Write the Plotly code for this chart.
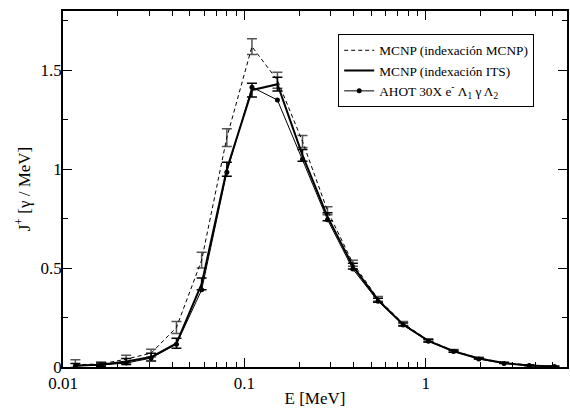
import plotly.graph_objects as go

# Energy bin centres [MeV]
energy = [0.0117, 0.0162, 0.0223, 0.0306, 0.0422, 0.0581, 0.0800, 0.110, 0.152, 0.209,
          0.287, 0.396, 0.545, 0.750, 1.033, 1.422, 1.958, 2.697, 3.713, 5.112]

# MCNP (indexación MCNP)
mcnp_mcnp = [0.012, 0.015, 0.040, 0.070, 0.20, 0.54, 1.16, 1.62, 1.45, 1.14,
             0.79, 0.525, 0.345, 0.22, 0.135, 0.082, 0.045, 0.022, 0.010, 0.004]
mcnp_mcnp_err = [0.025, 0.010, 0.020, 0.020, 0.030, 0.040, 0.045, 0.040, 0.040, 0.030,
                 0.020, 0.015, 0.012, 0.010, 0.008, 0.006, 0.004, 0.003, 0.002, 0.001]

# MCNP (indexación ITS)
mcnp_its = [0.008, 0.012, 0.028, 0.050, 0.12, 0.42, 1.00, 1.40, 1.43, 1.07,
            0.76, 0.51, 0.338, 0.215, 0.132, 0.080, 0.043, 0.020, 0.008, 0.003]
mcnp_its_err = [0.010, 0.008, 0.015, 0.020, 0.025, 0.030, 0.035, 0.035, 0.035, 0.030,
                0.020, 0.015, 0.010, 0.008, 0.006, 0.005, 0.003, 0.002, 0.002, 0.001]

# AHOT 30X
ahot = [0.005, 0.010, 0.020, 0.045, 0.115, 0.39, 0.985, 1.415, 1.35, 1.05,
        0.745, 0.495, 0.333, 0.212, 0.130, 0.079, 0.041, 0.018, 0.007, 0.002]

FONT = "'Liberation Serif', 'Times New Roman', serif"

fig = go.Figure()
fig.add_trace(go.Scatter(
    x=energy, y=mcnp_mcnp, mode="lines", name="MCNP (indexación MCNP)",
    line=dict(color="black", width=1, dash="4px,3px"),
    error_y=dict(type="data", array=mcnp_mcnp_err, color="#555555", thickness=1.5, width=5),
))
fig.add_trace(go.Scatter(
    x=energy, y=mcnp_its, mode="lines", name="MCNP (indexación ITS)",
    line=dict(color="black", width=2),
    error_y=dict(type="data", array=mcnp_its_err, color="black", thickness=1.5, width=5),
))
fig.add_trace(go.Scatter(
    x=energy, y=ahot, mode="lines+markers",
    name="AHOT 30X e<sup>-</sup> Λ<sub>1</sub> γ Λ<sub>2</sub>",
    line=dict(color="black", width=1),
    marker=dict(color="black", size=5, symbol="circle"),
))

fig.update_layout(
    width=570, height=408,
    margin=dict(l=63, r=1, t=11, b=41),
    plot_bgcolor="white", paper_bgcolor="white",
    font=dict(family=FONT, size=17, color="black"),
    showlegend=True,
    legend=dict(
        x=0.546, y=0.935, xanchor="left", yanchor="top",
        bgcolor="white", bordercolor="black", borderwidth=1,
        font=dict(family=FONT, size=13.3, color="black"),
        itemwidth=30, tracegroupgap=0,
    ),
)
fig.update_xaxes(
    type="log", range=[-2, 0.778],
    dtick=1, tick0=0,
    title=dict(text="E [MeV]", font=dict(family=FONT, size=17), standoff=2),
    showline=True, linecolor="black", linewidth=1.5, mirror="ticks",
    ticks="inside", ticklen=9, tickwidth=1.2, tickcolor="black",
    minor=dict(dtick="D1", ticks="inside", ticklen=5, tickwidth=1, tickcolor="black", showgrid=False),
    showgrid=False, zeroline=False,
    tickfont=dict(family=FONT, size=17),
)
fig.update_yaxes(
    range=[0, 1.8],
    dtick=0.5, tick0=0,
    title=dict(text="J<sup>+</sup> [γ / MeV]", font=dict(family=FONT, size=17), standoff=6),
    showline=True, linecolor="black", linewidth=1.5, mirror="ticks",
    ticks="inside", ticklen=9, tickwidth=1.2, tickcolor="black",
    ticklabelstandoff=-4,
    minor=dict(dtick=0.25, tick0=0, ticks="inside", ticklen=5, tickwidth=1, tickcolor="black", showgrid=False),
    showgrid=False, zeroline=False,
    tickfont=dict(family=FONT, size=17),
)

fig.write_html("out.html")
